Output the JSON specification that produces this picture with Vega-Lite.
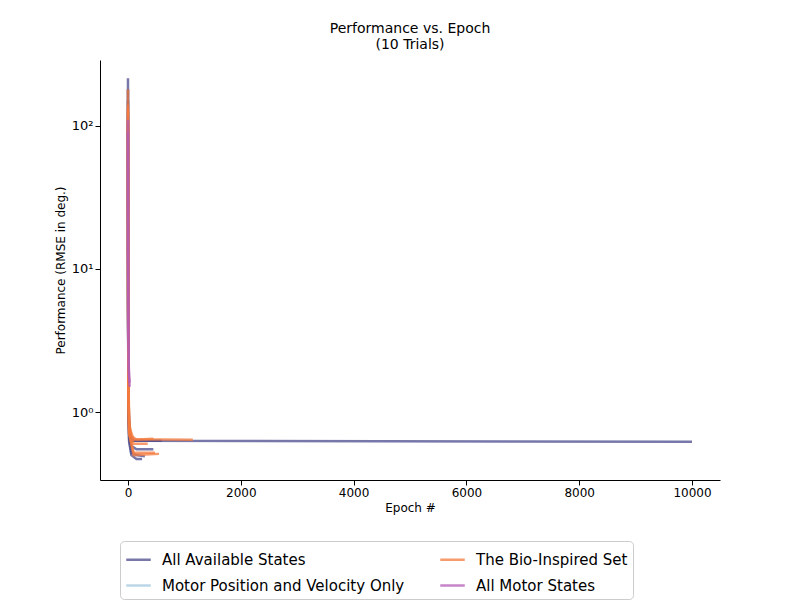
{
  "$schema": "https://vega.github.io/schema/vega-lite/v6.json",
  "width": 620,
  "height": 420,
  "autosize": "none",
  "padding": {"left": 100, "top": 60, "right": 80, "bottom": 120},
  "config": {"font": "DejaVu Sans", "view": {"stroke": null}},
  "title": {"text": ["Performance vs. Epoch", "(10 Trials)"], "fontSize": 14, "fontWeight": "normal", "color": "black", "offset": 8},
  "data": {"values": [
    {"g": "Motor Position and Velocity Only", "t": "l1", "x": 0, "y": 80},
    {"g": "Motor Position and Velocity Only", "t": "l1", "x": 1, "y": 20},
    {"g": "Motor Position and Velocity Only", "t": "l1", "x": 3, "y": 4},
    {"g": "Motor Position and Velocity Only", "t": "l1", "x": 10, "y": 1},
    {"g": "Motor Position and Velocity Only", "t": "l1", "x": 30, "y": 0.7},
    {"g": "Motor Position and Velocity Only", "t": "l1", "x": 100, "y": 0.65},

    {"g": "All Available States", "t": "b1", "x": 0, "y": 215},
    {"g": "All Available States", "t": "b1", "x": 1, "y": 40},
    {"g": "All Available States", "t": "b1", "x": 3, "y": 6},
    {"g": "All Available States", "t": "b1", "x": 8, "y": 1.5},
    {"g": "All Available States", "t": "b1", "x": 20, "y": 0.8},
    {"g": "All Available States", "t": "b1", "x": 50, "y": 0.66},
    {"g": "All Available States", "t": "b1", "x": 100, "y": 0.63},
    {"g": "All Available States", "t": "b1", "x": 10000, "y": 0.62},
    {"g": "All Available States", "t": "b2", "x": 0, "y": 150},
    {"g": "All Available States", "t": "b2", "x": 1, "y": 30},
    {"g": "All Available States", "t": "b2", "x": 3, "y": 5},
    {"g": "All Available States", "t": "b2", "x": 8, "y": 1.3},
    {"g": "All Available States", "t": "b2", "x": 20, "y": 0.7},
    {"g": "All Available States", "t": "b2", "x": 60, "y": 0.58},
    {"g": "All Available States", "t": "b2", "x": 150, "y": 0.55},
    {"g": "All Available States", "t": "b2", "x": 450, "y": 0.55},
    {"g": "All Available States", "t": "b3", "x": 0, "y": 120},
    {"g": "All Available States", "t": "b3", "x": 1, "y": 25},
    {"g": "All Available States", "t": "b3", "x": 3, "y": 4},
    {"g": "All Available States", "t": "b3", "x": 8, "y": 1.2},
    {"g": "All Available States", "t": "b3", "x": 20, "y": 0.65},
    {"g": "All Available States", "t": "b3", "x": 60, "y": 0.52},
    {"g": "All Available States", "t": "b3", "x": 150, "y": 0.5},
    {"g": "All Available States", "t": "b3", "x": 300, "y": 0.49},
    {"g": "All Available States", "t": "b4", "x": 0, "y": 180},
    {"g": "All Available States", "t": "b4", "x": 1, "y": 35},
    {"g": "All Available States", "t": "b4", "x": 3, "y": 5},
    {"g": "All Available States", "t": "b4", "x": 8, "y": 1.2},
    {"g": "All Available States", "t": "b4", "x": 20, "y": 0.62},
    {"g": "All Available States", "t": "b4", "x": 60, "y": 0.5},
    {"g": "All Available States", "t": "b4", "x": 150, "y": 0.47},
    {"g": "All Available States", "t": "b4", "x": 250, "y": 0.47},
    {"g": "All Available States", "t": "b5", "x": 0, "y": 100},
    {"g": "All Available States", "t": "b5", "x": 1, "y": 22},
    {"g": "All Available States", "t": "b5", "x": 3, "y": 4},
    {"g": "All Available States", "t": "b5", "x": 8, "y": 1.3},
    {"g": "All Available States", "t": "b5", "x": 20, "y": 0.75},
    {"g": "All Available States", "t": "b5", "x": 60, "y": 0.63},
    {"g": "All Available States", "t": "b5", "x": 600, "y": 0.63},

    {"g": "The Bio-Inspired Set", "t": "o1", "x": 0, "y": 180},
    {"g": "The Bio-Inspired Set", "t": "o1", "x": 1, "y": 40},
    {"g": "The Bio-Inspired Set", "t": "o1", "x": 3, "y": 7},
    {"g": "The Bio-Inspired Set", "t": "o1", "x": 8, "y": 1.8},
    {"g": "The Bio-Inspired Set", "t": "o1", "x": 20, "y": 0.9},
    {"g": "The Bio-Inspired Set", "t": "o1", "x": 50, "y": 0.68},
    {"g": "The Bio-Inspired Set", "t": "o1", "x": 150, "y": 0.645},
    {"g": "The Bio-Inspired Set", "t": "o1", "x": 1150, "y": 0.64},
    {"g": "The Bio-Inspired Set", "t": "o2", "x": 0, "y": 130},
    {"g": "The Bio-Inspired Set", "t": "o2", "x": 1, "y": 30},
    {"g": "The Bio-Inspired Set", "t": "o2", "x": 3, "y": 5},
    {"g": "The Bio-Inspired Set", "t": "o2", "x": 8, "y": 1.5},
    {"g": "The Bio-Inspired Set", "t": "o2", "x": 20, "y": 0.75},
    {"g": "The Bio-Inspired Set", "t": "o2", "x": 100, "y": 0.6},
    {"g": "The Bio-Inspired Set", "t": "o2", "x": 350, "y": 0.6},
    {"g": "The Bio-Inspired Set", "t": "o3", "x": 0, "y": 100},
    {"g": "The Bio-Inspired Set", "t": "o3", "x": 1, "y": 25},
    {"g": "The Bio-Inspired Set", "t": "o3", "x": 3, "y": 5},
    {"g": "The Bio-Inspired Set", "t": "o3", "x": 8, "y": 1.4},
    {"g": "The Bio-Inspired Set", "t": "o3", "x": 20, "y": 0.7},
    {"g": "The Bio-Inspired Set", "t": "o3", "x": 100, "y": 0.52},
    {"g": "The Bio-Inspired Set", "t": "o3", "x": 480, "y": 0.52},
    {"g": "The Bio-Inspired Set", "t": "o4", "x": 0, "y": 140},
    {"g": "The Bio-Inspired Set", "t": "o4", "x": 1, "y": 30},
    {"g": "The Bio-Inspired Set", "t": "o4", "x": 3, "y": 6},
    {"g": "The Bio-Inspired Set", "t": "o4", "x": 8, "y": 1.6},
    {"g": "The Bio-Inspired Set", "t": "o4", "x": 20, "y": 0.72},
    {"g": "The Bio-Inspired Set", "t": "o4", "x": 100, "y": 0.5},
    {"g": "The Bio-Inspired Set", "t": "o4", "x": 550, "y": 0.51},
    {"g": "The Bio-Inspired Set", "t": "o5", "x": 0, "y": 110},
    {"g": "The Bio-Inspired Set", "t": "o5", "x": 1, "y": 26},
    {"g": "The Bio-Inspired Set", "t": "o5", "x": 3, "y": 5},
    {"g": "The Bio-Inspired Set", "t": "o5", "x": 8, "y": 1.5},
    {"g": "The Bio-Inspired Set", "t": "o5", "x": 20, "y": 0.8},
    {"g": "The Bio-Inspired Set", "t": "o5", "x": 100, "y": 0.64},
    {"g": "The Bio-Inspired Set", "t": "o5", "x": 450, "y": 0.65},

    {"g": "All Motor States", "t": "p1", "x": 0, "y": 110},
    {"g": "All Motor States", "t": "p1", "x": 1, "y": 40},
    {"g": "All Motor States", "t": "p1", "x": 3, "y": 12},
    {"g": "All Motor States", "t": "p1", "x": 8, "y": 4},
    {"g": "All Motor States", "t": "p1", "x": 15, "y": 2},
    {"g": "All Motor States", "t": "p1", "x": 30, "y": 1.6},
    {"g": "All Motor States", "t": "p2", "x": 0, "y": 90},
    {"g": "All Motor States", "t": "p2", "x": 1, "y": 30},
    {"g": "All Motor States", "t": "p2", "x": 3, "y": 10},
    {"g": "All Motor States", "t": "p2", "x": 8, "y": 3.5},
    {"g": "All Motor States", "t": "p2", "x": 15, "y": 1.8},
    {"g": "All Motor States", "t": "p2", "x": 30, "y": 1.5}
  ]},
  "mark": {"type": "line", "strokeWidth": 2.5, "opacity": 0.75},
  "encoding": {
    "x": {"field": "x", "type": "quantitative", "title": "Epoch #",
      "scale": {"domain": [-496, 10496], "nice": false, "zero": false},
      "axis": {"values": [0, 2000, 4000, 6000, 8000, 10000], "format": "d", "grid": false, "labelFontSize": 12, "titleFontSize": 12, "titleFontWeight": "normal", "labelColor": "black", "titleColor": "black", "domainColor": "black", "tickColor": "black", "labelFlush": false}},
    "y": {"field": "y", "type": "quantitative", "title": "Performance (RMSE in deg.)",
      "scale": {"type": "log", "domain": [0.335, 288], "nice": false},
      "axis": {"values": [1, 10, 100], "labelExpr": "datum.value == 1 ? '10⁰' : datum.value == 10 ? '10¹' : '10²'", "grid": false, "labelFontSize": 13, "titleFontSize": 12, "titleFontWeight": "normal", "labelColor": "black", "titleColor": "black", "domainColor": "black", "tickColor": "black"}},
    "color": {"field": "g", "type": "nominal", "title": null,
      "scale": {"domain": ["Motor Position and Velocity Only", "All Available States", "The Bio-Inspired Set", "All Motor States"],
        "range": ["#a6c8e0", "#4a4a8c", "#f47a3c", "#b45cb6"]},
      "legend": {"orient": "none", "legendX": 20, "legendY": 481, "columns": 2,
        "values": ["All Available States", "Motor Position and Velocity Only", "The Bio-Inspired Set", "All Motor States"],
        "symbolType": "stroke", "symbolStrokeWidth": 2.5, "symbolSize": 600, "labelFontSize": 15, "labelColor": "black", "strokeColor": "#cccccc", "padding": 5, "cornerRadius": 4, "columnPadding": 30, "rowPadding": 4, "labelLimit": 400, "labelOffset": 10}},
    "detail": {"field": "t"},
    "order": {"field": "x", "type": "quantitative"}
  }
}
